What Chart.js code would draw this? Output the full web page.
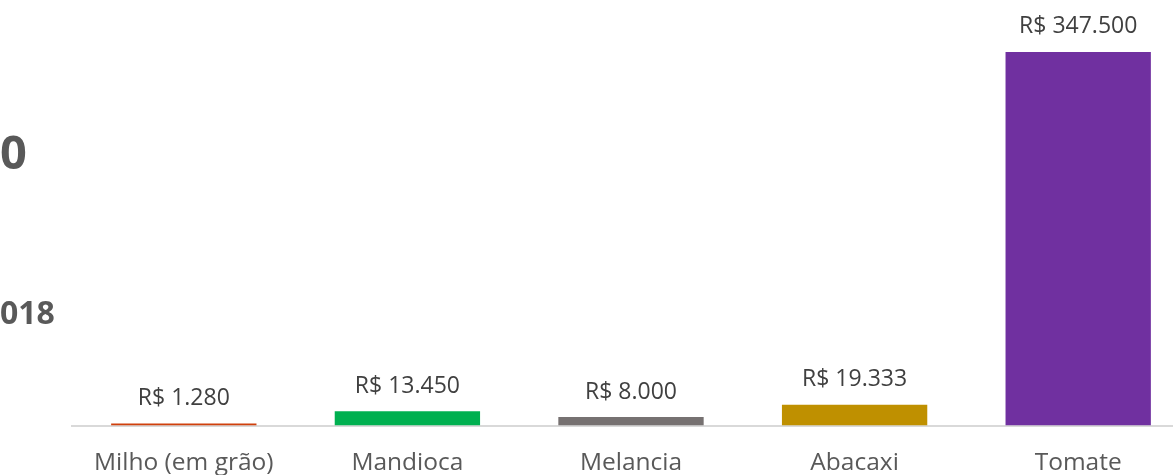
<!DOCTYPE html>
<html>
<head>
  <title>Produção - valores</title>
  <style>
    html, body { margin: 0; padding: 0; background: #fff; overflow: hidden; }
    body { width: 1173px; height: 475px; position: relative; font-family: "Open Sans", sans-serif; }
    .wrap { position: absolute; left: 0; top: 0; width: 1190px; height: 504px; }
    .side { position: absolute; left: 0; color: #595959; font-weight: bold; line-height: 1; }
    #s1 { top: 128px; font-size: 47px; }
    #s2 { top: 296px; font-size: 32px; }
  </style>
</head>
<body>

  <div class="wrap"><canvas id="chart"></canvas></div>
  <div class="side" id="s1">0</div>
  <div class="side" id="s2">018</div>

  <script src="https://cdn.jsdelivr.net/npm/chart.js"></script>
  <script>
    const culturas = ["Milho (em grão)", "Mandioca", "Melancia", "Abacaxi", "Tomate"];
    const valores = [1280, 13450, 8000, 19333, 347500];
    const cores = ["#D0400C", "#00B050", "#767171", "#BF9000", "#7030A0"];

    const fmt = v => "R$ " + v.toLocaleString("pt-BR");

    // rótulos de valor em cima das barras
    const rotulos = {
      id: "rotulos",
      afterDatasetsDraw(chart) {
        const ctx = chart.ctx;
        const meta = chart.getDatasetMeta(0);
        ctx.save();
        ctx.font = "23px 'Open Sans'";
        ctx.fillStyle = "#404040";
        ctx.textAlign = "center";
        ctx.textBaseline = "middle";
        meta.data.forEach((bar, i) => {
          ctx.fillText(fmt(valores[i]), bar.x, bar.y - 25);
        });
        ctx.restore();
      }
    };

    new Chart(document.getElementById("chart"), {
      type: "bar",
      data: {
        labels: culturas,
        datasets: [{
          data: valores,
          backgroundColor: cores,
          categoryPercentage: 1,
          barPercentage: 0.65,
          minBarLength: 2
        }]
      },
      options: {
        responsive: true,
        maintainAspectRatio: false,
        animation: false,
        layout: { padding: { left: 72, right: 0, top: 17, bottom: 3 } },
        plugins: { legend: { display: false }, tooltip: { enabled: false } },
        scales: {
          x: {
            grid: { display: false, drawTicks: false },
            border: { color: "#D9D9D9", width: 2 },
            ticks: { color: "#595959", font: { family: "Open Sans", size: 24.5 }, padding: 23, maxRotation: 0 }
          },
          y: { display: false, min: 0, max: 380000 }
        }
      },
      plugins: [rotulos]
    });
  </script>
</body>
</html>
